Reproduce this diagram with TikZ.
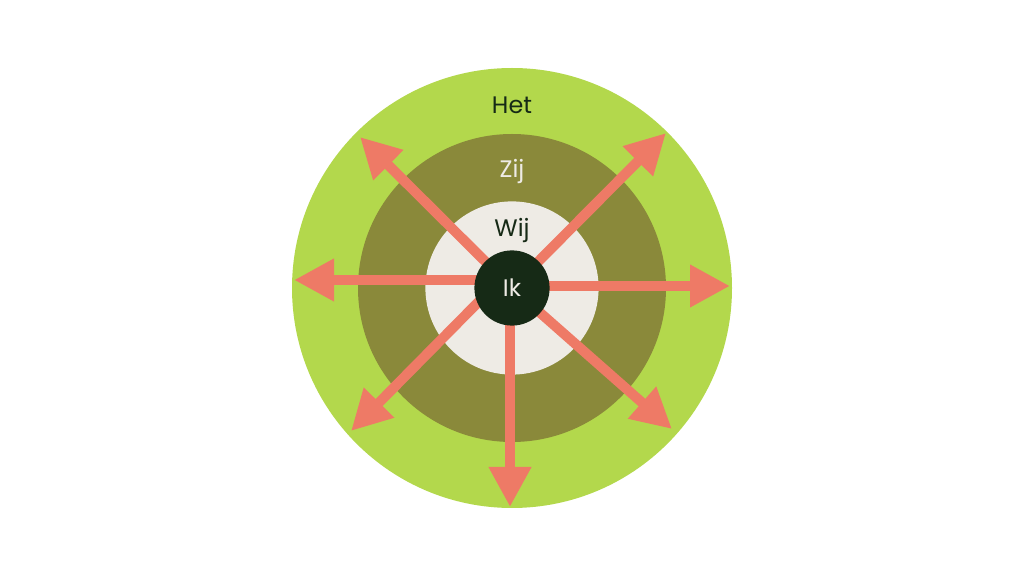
\documentclass[tikz,border=0pt]{standalone}
\usepackage{fontspec}
\setmainfont{Poppins}
\usetikzlibrary{arrows.meta}
\definecolor{hetgreen}{HTML}{B3D84C}
\definecolor{zijolive}{HTML}{8A893A}
\definecolor{wijwhite}{HTML}{EEEBE5}
\definecolor{ikdark}{HTML}{162A16}
\definecolor{pijl}{HTML}{EE7A66}
\begin{document}
\begin{tikzpicture}[
  ring/.style={circle, inner sep=0pt, draw=none},
  woord/.style={font=\fontsize{17}{20}\selectfont},
  pijlen/.style={draw=pijl, line width=0.25cm, -{Triangle[length=1cm, width=1cm]}}
]
\useasboundingbox (0,0) rectangle (25.6,14.4);
%\draw [lightgray](0,0) grid (25,14);

\coordinate (o) at (12.8,7.2);

\node [ring, fill=hetgreen, minimum size=11cm]   (het) at (o) {}; % buitenste ring
\node [ring, fill=zijolive, minimum size=7.7cm]  (zij) at (o) {};
\node [ring, fill=wijwhite, minimum size=4.33cm] (wij) at (o) {};

\node [woord, text=ikdark]   (hettxt) at (12.8,11.775) {Het};
\node [woord, text=wijwhite] (zijtxt) at (12.8,10.1)   {Zij};
\node [woord, text=ikdark]   (wijtxt) at (12.8,8.625)  {Wij};

% pijlen naar buiten
\coordinate (w)  at (7.35,7.4);
\coordinate (e)  at (18.25,7.25);
\coordinate (ne) at (16.65,11.075);
\coordinate (nw) at (9.0,10.975);
\coordinate (sw) at (8.775,3.625);
\coordinate (se) at (16.8,3.675);
\coordinate (s)  at (12.75,1.725);

\draw [pijlen] ([yshift=0.2cm]o) -- (w);
\draw [pijlen] ([yshift=0.05cm]o) -- (e);
\draw [pijlen] (o) -- (ne);
\draw [pijlen] (o) -- (nw);
\draw [pijlen] ([yshift=0.5cm]o) -- (sw);
\draw [pijlen] (o) -- (se);
\draw [pijlen] ([xshift=-0.05cm]o) -- (s);

\node [ring, fill=ikdark, minimum size=1.88cm, woord, text=wijwhite] (ik) at (o) {Ik}; % midden

\end{tikzpicture}
\end{document}
